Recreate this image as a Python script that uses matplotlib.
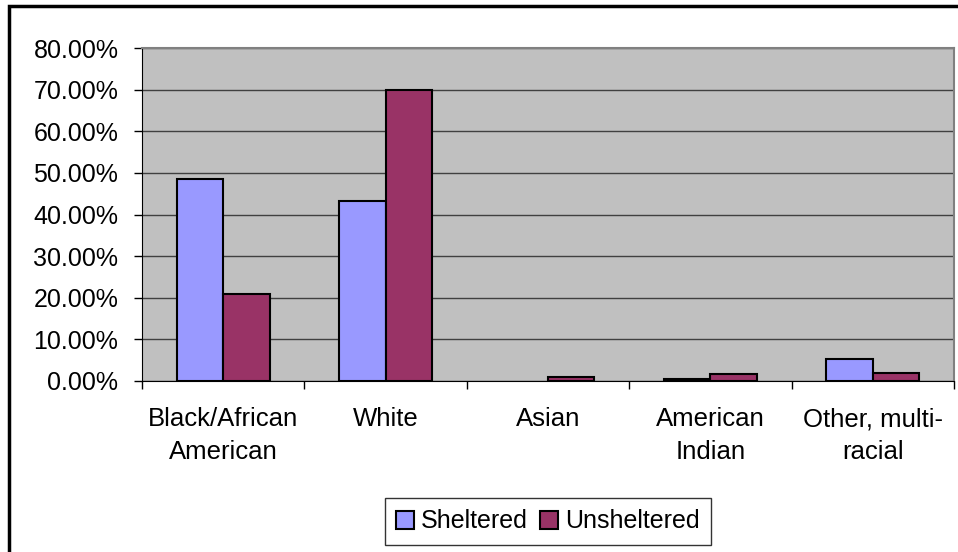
import numpy as np
import matplotlib.pyplot as plt
from matplotlib.patches import Rectangle
from matplotlib.ticker import FuncFormatter, MultipleLocator

plt.rcParams['font.family'] = ['Liberation Sans', 'DejaVu Sans']

# data (percent)
categories = ["Black/African\nAmerican", "White", "Asian", "American\nIndian", "Other, multi-\nracial"]
sheltered = [48.5, 43.3, 0.0, 0.4, 5.3]
unsheltered = [21.0, 70.0, 0.9, 1.6, 2.0]

W, H = 958, 552
fig = plt.figure(figsize=(W / 100, H / 100), dpi=100)

# plot area in pixels
left, right, top, bottom = 142, 954, 48, 381
ax = fig.add_axes([left / W, 1 - bottom / H, (right - left) / W, (bottom - top) / H])
ax.set_facecolor('#C0C0C0')

x = np.arange(len(categories))
bw = 1 / 3.5  # excel gap width 150
# zero-height bars are not drawn in excel
sh = np.array(sheltered, dtype=float) / 100
un = np.array(unsheltered, dtype=float) / 100
sh[sh == 0] = np.nan
un[un == 0] = np.nan
ax.bar(x - bw / 2, sh, width=bw, color='#9999FF',
       edgecolor='black', linewidth=1.5, label='Sheltered', zorder=3)
ax.bar(x + bw / 2, un, width=bw, color='#993366',
       edgecolor='black', linewidth=1.5, label='Unsheltered', zorder=3)

ax.set_xlim(-0.5, len(categories) - 0.5)
ax.set_ylim(0, 0.8)
ax.yaxis.set_major_locator(MultipleLocator(0.1))
ax.yaxis.set_major_formatter(FuncFormatter(lambda v, p: f"{v * 100:.2f}%"))
ax.grid(axis='y', color='#404040', linewidth=1, zorder=1)

ax.set_xticks(x)
ax.set_xticklabels(categories, linespacing=1.45)
ax.set_xticks(np.arange(-0.5, len(categories)), minor=True)
ax.tick_params(axis='x', which='major', length=0, pad=19, labelsize=18.5)
ax.tick_params(axis='x', which='minor', length=6, width=1, color='black')
ax.tick_params(axis='y', length=6, width=1, color='black', pad=11, labelsize=18)

for s in ['top', 'right']:
    ax.spines[s].set_color('#808080')
    ax.spines[s].set_linewidth(1.5)
ax.spines['left'].set_color('black')
ax.spines['bottom'].set_color('black')

leg = fig.legend(loc='center', bbox_to_anchor=(548 / W, 1 - 521.5 / H), ncol=2,
                 fontsize=18, frameon=True, fancybox=False, shadow=False,
                 handlelength=0.7, handleheight=0.7, handletextpad=0.3,
                 columnspacing=0.5, borderpad=0.45, borderaxespad=0)
leg.get_frame().set_edgecolor('black')
leg.get_frame().set_linewidth(1)

# outer chart border (runs off the right and bottom of the image)
fig.patches.append(Rectangle((9 / W, -0.1), 1.2, 1 - 6 / H + 0.1, transform=fig.transFigure,
                             fill=False, edgecolor='black', linewidth=2.5, clip_on=False))

fig.savefig('out.png', dpi=100)
